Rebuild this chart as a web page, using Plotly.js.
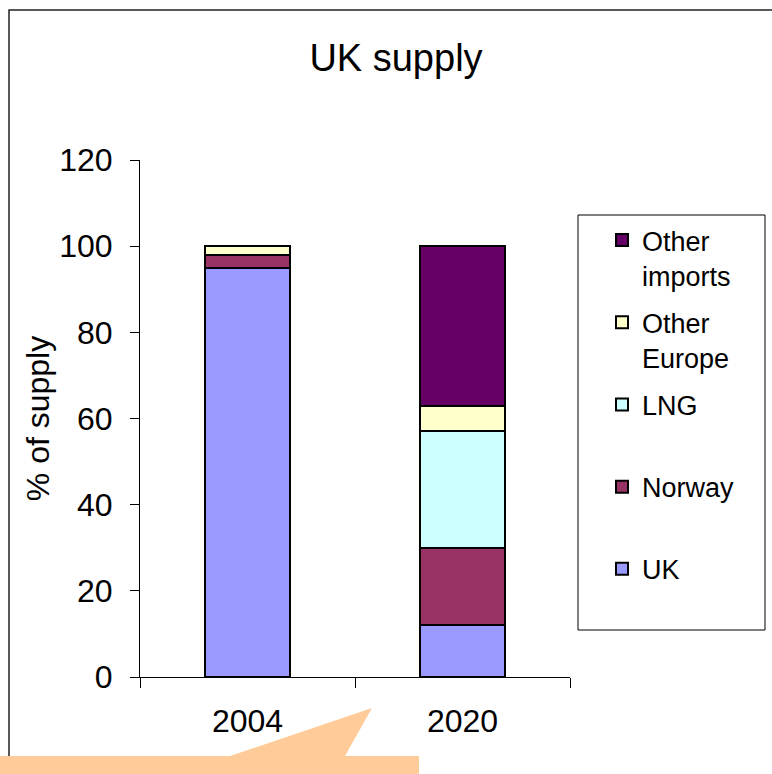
<!DOCTYPE html>
<html>
<head>
<meta charset="utf-8">
<script src="https://cdn.plot.ly/plotly-3.0.1.min.js"></script>
<style>html,body{margin:0;padding:0;background:#fff;}#chart{width:772px;height:774px;}</style>
</head>
<body>
<div id="chart"></div>
<script>
// ---- data ----
const years = ['2004', '2020'];
const seriesNames = ['UK', 'Norway', 'LNG', 'Other Europe', 'Other imports'];
const legendLabels = ['UK<br> ', 'Norway<br> ', 'LNG<br> ', 'Other<br>Europe', 'Other<br>imports'];
const ukValues = [95, 12];
const norwayValues = [3, 18];
const lngValues = [0, 27];
const otherEuropeValues = [2, 6];
const otherImportsValues = [0, 37];
const yTickValues = [0, 20, 40, 60, 80, 100, 120];

const seriesValues = [ukValues, norwayValues, lngValues, otherEuropeValues, otherImportsValues];
const colors = ['#9999FF', '#993366', '#CCFFFF', '#FFFFCC', '#660066'];

const FONT = 'Liberation Sans, Arial, sans-serif';

// plot-area geometry (pixels) used only for decorative shapes
const W = 772, H = 774;
const M = {l: 140, r: 202, t: 160, b: 97};
const PW = W - M.l - M.r, PH = H - M.t - M.b;
const px = x => (x - M.l) / PW;
const py = y => (H - M.b - y) / PH;

const traces = seriesNames.map((name, i) => ({
  type: 'bar',
  name: legendLabels[i],
  legendgroup: name,
  legendrank: 1000 - i,
  x: years,
  y: seriesValues[i],
  marker: {color: colors[i], line: {color: '#000', width: 2}},
  width: 0.395,
  hoverinfo: 'skip'
}));

const calloutPath = 'M' + px(-5) + ',' + py(756) +
  ' L' + px(230) + ',' + py(756) +
  ' L' + px(372) + ',' + py(708) +
  ' L' + px(345) + ',' + py(756) +
  ' L' + px(419) + ',' + py(756) +
  ' L' + px(419) + ',' + py(790) +
  ' L' + px(-5) + ',' + py(790) + ' Z';

const layout = {
  width: W, height: H,
  margin: M,
  paper_bgcolor: '#fff',
  plot_bgcolor: 'rgba(0,0,0,0)',
  barmode: 'stack',
  bargap: 0,
  font: {family: FONT, color: '#000', size: 30},
  title: {
    text: 'UK supply',
    font: {family: FONT, size: 38, color: '#000'},
    x: 396 / W, xref: 'container', xanchor: 'center',
    y: 1 - 58 / H, yref: 'container', yanchor: 'middle'
  },
  xaxis: {
    type: 'category',
    showline: true, linecolor: '#000', linewidth: 1,
    ticks: 'outside', tickson: 'boundaries', ticklen: 10, tickcolor: '#000',
    tickfont: {family: FONT, size: 32},
    ticklabelstandoff: 16,
    showgrid: false, zeroline: false, fixedrange: true
  },
  yaxis: {
    range: [0, 120], tickvals: yTickValues,
    showline: true, linecolor: '#000', linewidth: 1,
    ticks: 'outside', ticklen: 9, tickcolor: '#000',
    tickfont: {family: FONT, size: 32},
    ticklabelstandoff: 11,
    showgrid: false, zeroline: false, fixedrange: true,
    title: {text: '% of supply', font: {family: FONT, size: 32}, standoff: 0}
  },
  showlegend: true,
  legend: {
    traceorder: 'grouped',
    tracegroupgap: 9,
    x: px(602), xanchor: 'left',
    y: py(216), yanchor: 'top',
    valign: 'top',
    font: {family: FONT, size: 27, color: '#000'},
    bgcolor: 'rgba(0,0,0,0)', borderwidth: 0,
    itemclick: false, itemdoubleclick: false
  },
  shapes: [
    {type: 'rect', xref: 'paper', yref: 'paper', layer: 'below',
     x0: px(9), x1: px(800), y0: py(10), y1: py(800),
     line: {color: '#222', width: 1.5}, fillcolor: 'rgba(0,0,0,0)'},
    {type: 'rect', xref: 'paper', yref: 'paper', layer: 'above',
     x0: px(578), x1: px(765), y0: py(215), y1: py(630),
     line: {color: '#000', width: 1}, fillcolor: 'rgba(0,0,0,0)'},
    {type: 'path', xref: 'paper', yref: 'paper', layer: 'above',
     path: calloutPath, fillcolor: '#FFCC99', line: {width: 0}}
  ]
};

Plotly.newPlot('chart', traces, layout, {displayModeBar: false, staticPlot: true});
</script>
</body>
</html>
